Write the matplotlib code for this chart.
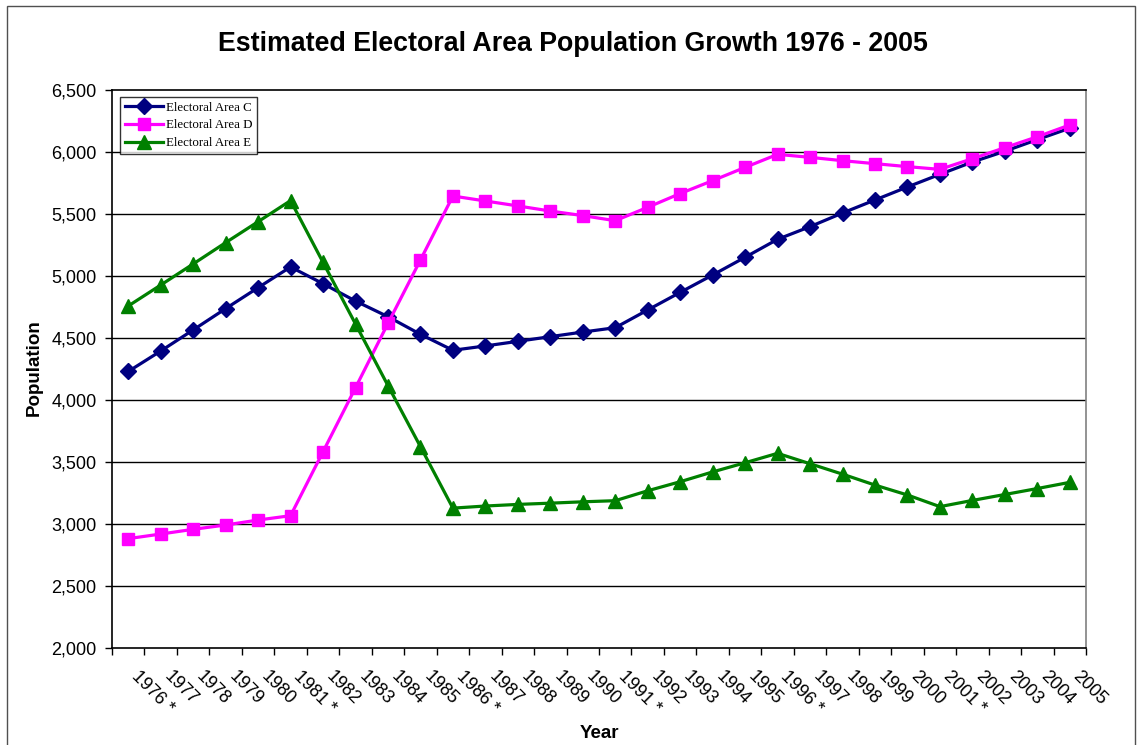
import matplotlib
matplotlib.use("Agg")
import matplotlib.pyplot as plt
from matplotlib.patches import Rectangle
from matplotlib.ticker import FuncFormatter, FixedLocator

years = list(range(1976, 2006))
census_years = [1976, 1981, 1986, 1991, 1996, 2001]
year_labels = [f"{y} *" if y in census_years else str(y) for y in years]

area_c = [4230, 4395, 4565, 4737, 4906, 5073, 4938, 4798, 4672, 4530,
          4401, 4436, 4473, 4511, 4548, 4583, 4726, 4868, 5008, 5151,
          5296, 5398, 5508, 5613, 5718, 5820, 5919, 6006, 6100, 6192]
area_d = [2882, 2919, 2957, 2992, 3032, 3067, 3583, 4099, 4618, 5129,
          5645, 5605, 5565, 5524, 5487, 5446, 5554, 5665, 5769, 5876,
          5981, 5957, 5930, 5906, 5882, 5860, 5946, 6035, 6123, 6218]
area_e = [4758, 4927, 5097, 5269, 5438, 5608, 5110, 4613, 4116, 3624,
          3128, 3145, 3158, 3168, 3179, 3188, 3268, 3341, 3420, 3494,
          3570, 3486, 3402, 3314, 3234, 3140, 3190, 3238, 3286, 3336]

series_names = ["Electoral Area C", "Electoral Area D", "Electoral Area E"]
yticks = [2000, 2500, 3000, 3500, 4000, 4500, 5000, 5500, 6000, 6500]

W, H = 1138, 745
fig = plt.figure(figsize=(W / 100, H / 100), dpi=100)
sans = "Liberation Sans"
serif = "Liberation Serif"

# outer border
fig.patches.append(Rectangle((7 / W, -0.02), (1135 - 7) / W, 1 - 6 / H + 0.02,
                             transform=fig.transFigure, fill=False,
                             edgecolor="#505050", linewidth=1.0))

ax = fig.add_axes([112 / W, 1 - 648 / H, (1086 - 112) / W, (648 - 90) / H])

x = list(range(len(years)))
ax.plot(x, area_c, color="#000080", lw=2.3, marker="D", ms=8,
        label=series_names[0])
ax.plot(x, area_d, color="#FF00FF", lw=2.3, marker="s", ms=8.5,
        label=series_names[1])
ax.plot(x, area_e, color="#008000", lw=2.3, marker="^", ms=9.5,
        label=series_names[2])

ax.set_xlim(-0.5, len(years) - 0.5)
ax.set_ylim(2000, 6500)
ax.set_yticks(yticks)
ax.yaxis.set_major_formatter(FuncFormatter(lambda v, p: f"{int(v):,}"))
for t in yticks[1:-1]:
    ax.axhline(t, color="black", lw=1.0, zorder=0)

ax.xaxis.set_major_locator(FixedLocator(x))
ax.set_xticklabels(year_labels, rotation=-45, ha="left", va="top",
                   fontsize=13, family=sans)
ax.xaxis.set_minor_locator(FixedLocator([i - 0.5 for i in range(len(years) + 1)]))
ax.tick_params(axis="x", which="major", length=0, pad=14)
ax.tick_params(axis="x", which="minor", length=5, width=1, color="black",
               direction="out")
ax.tick_params(axis="y", length=5, width=1, direction="out", pad=6,
               labelsize=13)
for lab in ax.get_yticklabels():
    lab.set_family(sans)

for s in ["left", "bottom", "top"]:
    ax.spines[s].set_color("black")
    ax.spines[s].set_linewidth(1.2)
ax.spines["right"].set_color("#808080")
ax.spines["right"].set_linewidth(1.2)

leg = ax.legend(loc="upper left", bbox_to_anchor=(8 / 974, 1 - 7 / 558),
                prop={"family": serif, "size": 9.3}, frameon=True,
                fancybox=False, borderpad=0.35, labelspacing=0.45,
                handlelength=3.0, handletextpad=0.2, borderaxespad=0)
leg.get_frame().set_edgecolor("black")
leg.get_frame().set_linewidth(1.0)

fig.text(573 / W, 1 - 44 / H, "Estimated Electoral Area Population Growth 1976 - 2005",
         ha="center", va="center", fontsize=19.3, fontweight="bold", family=sans)
fig.text(599 / W, 1 - 733 / H, "Year", ha="center", va="center",
         fontsize=13.5, fontweight="bold", family=sans)
fig.text(34 / W, 1 - 368 / H, "Population", ha="center", va="center",
         rotation=90, fontsize=13.5, fontweight="bold", family=sans)

fig.savefig("out.png", dpi=100)
